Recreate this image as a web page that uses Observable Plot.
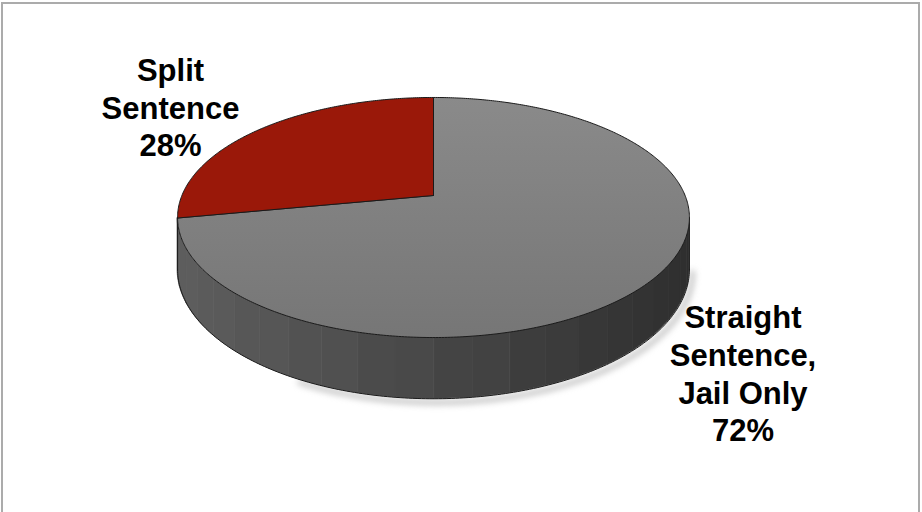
<!DOCTYPE html>
<html><head><meta charset="utf-8">
<script src="https://cdn.jsdelivr.net/npm/d3@7"></script>
<script src="https://cdn.jsdelivr.net/npm/@observablehq/plot@0.6"></script>
<style>
body{margin:0;background:#fff;}
#frame{position:absolute;left:1px;top:2px;width:919px;height:530px;border:2px solid #ababab;border-bottom:none;box-sizing:border-box;}
#chart{position:absolute;left:0;top:0;}
.shadow{filter:blur(3px);}
</style></head><body>
<div id="frame"></div><div id="chart"></div>
<script>
// ---- data ----
const categories = ["Straight Sentence, Jail Only", "Split Sentence"];
const values = [72, 28];
const labelTexts = ["Straight\nSentence,\nJail Only\n72%", "Split\nSentence\n28%"];
const sliceColors = ["url(#topGrad)", "#9a1809"];

// ---- layout (3D pie projection) ----
const W = 922, H = 512;
const cx = 433, cy = 195, R = 251.6, A = 116, k = 0.1833, depth = 50;
function proj(t, down = 0) {
  const c = Math.cos(t), s = Math.sin(t), f = 1 / (1 + k * c);
  return [cx + R * s * f, cy - A * c * f + depth * down * f];
}
const labelAnchors = [[742.5, 372], [170, 106]];

const arcs = d3.pie().sort(null).startAngle(0).endAngle(2 * Math.PI)(values);

// top-face slice polygons
const slicePolys = arcs.map((a, i) => {
  const pts = [{x: cx, y: cy}];
  const n = Math.max(8, Math.ceil((a.endAngle - a.startAngle) / 0.01));
  for (let j = 0; j <= n; j++) {
    const t = a.startAngle + (a.endAngle - a.startAngle) * j / n;
    const [x, y] = proj(t);
    pts.push({x, y});
  }
  pts.push({x: cx, y: cy});
  return pts;
});

// visible side: between silhouettes where cos(t) = -k
const tR = Math.acos(-k), tL = 2 * Math.PI - tR;
const sideStart = Math.max(tR, arcs[0].startAngle), sideEnd = Math.min(tL, arcs[0].endAngle);
const nStrips = 22;
const shade = d3.interpolateRgb("#2f2f2f", "#5d5d5d");
const sidePts = [];
for (let s = 0; s < nStrips; s++) {
  const a0 = sideStart + (sideEnd - sideStart) * s / nStrips;
  const a1 = sideStart + (sideEnd - sideStart) * (s + 1) / nStrips;
  const [xm] = proj((a0 + a1) / 2);
  let frac = (xm - (cx - R)) / (2 * R);
  let col = d3.color(shade(1 - frac));
  if (s % 2) col = col.brighter(0.025);
  for (let j = 0; j <= 6; j++) {
    const t = a0 + (a1 - a0) * j / 6;
    const [x, y1] = proj(t), [, y2] = proj(t, 1);
    sidePts.push({strip: s, x, y1, y2, fill: col.formatHex()});
  }
}
const bottomEdge = d3.range(0, 201).map(j => {
  const t = sideStart + (sideEnd - sideStart) * j / 200;
  const [x, y] = proj(t, 1);
  return {x, y};
});
const shadowEdge = d3.range(0, 101).map(j => {
  const t = sideStart + (Math.PI * 1.15 - sideStart) * j / 100;
  const [x, y] = proj(t, 1.06);
  return {x: x + 3, y};
});
const silhouettes = [sideStart, sideEnd].flatMap((t, i) => {
  const [x, y1] = proj(t), [, y2] = proj(t, 1);
  return [{id: i, x, y: y1}, {id: i, x, y: y2}];
});

const labels = labelTexts.map((t, i) => ({text: t, x: labelAnchors[i][0], y: labelAnchors[i][1]}));

const marks = [
  Plot.line(shadowEdge, {x: "x", y: "y", stroke: "#9a9a9a", strokeWidth: 5, strokeOpacity: 0.6, className: "shadow"}),
  Plot.areaY(sidePts, {x: "x", y1: "y1", y2: "y2", z: "strip", fill: "fill", stroke: "fill", strokeWidth: 0.8}),
  Plot.line(bottomEdge, {x: "x", y: "y", stroke: "#1a1a1a", strokeWidth: 1}),
  Plot.line(silhouettes, {x: "x", y: "y", z: "id", stroke: "#1a1a1a", strokeWidth: 1}),
  ...slicePolys.map((p, i) => Plot.line(p, {x: "x", y: "y", fill: sliceColors[i], stroke: "#1a1a1a", strokeWidth: 1, strokeLinejoin: "round"})),
  Plot.text(labels, {x: "x", y: "y", text: "text", fontSize: 31, fontWeight: "bold", lineHeight: 1.22, fill: "#000", textAnchor: "middle"})
];

const chart = Plot.plot({
  width: W, height: H, margin: 0,
  style: {fontFamily: "'Liberation Sans', Arial, sans-serif", background: "transparent"},
  x: {domain: [0, W], range: [0, W], axis: null},
  y: {domain: [0, H], range: [0, H], axis: null},
  color: {type: "identity"},
  marks
});
const ns = "http://www.w3.org/2000/svg";
const defs = document.createElementNS(ns, "defs");
defs.innerHTML = `<linearGradient id="topGrad" gradientUnits="userSpaceOnUse" x1="0" y1="97" x2="0" y2="337">
  <stop offset="0" stop-color="#8a8a8a"/><stop offset="1" stop-color="#767676"/></linearGradient>`;
chart.insertBefore(defs, chart.firstChild);
document.getElementById("chart").appendChild(chart);
</script>
</body></html>
